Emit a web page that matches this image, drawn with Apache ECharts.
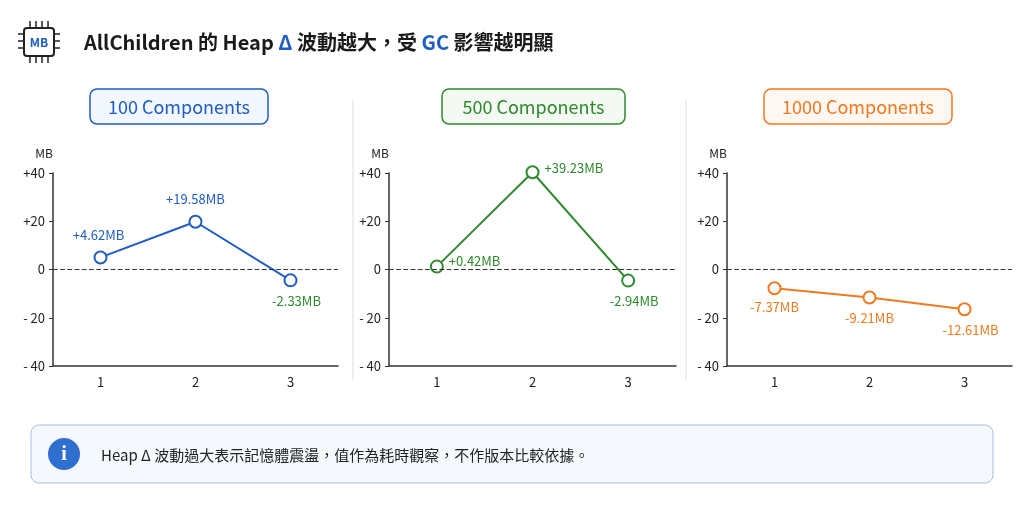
<!DOCTYPE html><html><head><meta charset="utf-8"><script src="https://cdn.jsdelivr.net/npm/echarts@6/dist/echarts.min.js"></script>
<style>body{margin:0;background:#fff}#c{width:1024px;height:512px}</style></head><body><div id="c"></div><script>
const categories=['1','2','3'];
const panelTitles=['100 Components','500 Components','1000 Components'];
const values100=[5.0,19.8,-4.5];
const values500=[1.2,40.3,-4.6];
const values1000=[-7.8,-11.6,-16.5];
const labels100=['+4.62MB','+19.58MB','-2.33MB'];
const labels500=['+0.42MB','+39.23MB','-2.94MB'];
const labels1000=['-7.37MB','-9.21MB','-12.61MB'];
const BLUE='#1f5cc4',GREEN='#2d8a2d',ORANGE='#f07a22';
const F='"Noto Sans CJK TC","Noto Sans",sans-serif';
const chart=echarts.init(document.getElementById('c'));
const grids=[{left:53,width:285},{left:389,width:287},{left:727,width:285}];
const vals=[values100,values500,values1000],labs=[labels100,labels500,labels1000];
const cols=[BLUE,GREEN,ORANGE];
const labelCols=[[BLUE,BLUE,GREEN],[GREEN,GREEN,GREEN],[ORANGE,ORANGE,ORANGE]];
const labelPos=[[['top',[-2,-4]],['top',[0,-4]],['bottom',[6,2]]],[['right',[0,-6]],['right',[0,-4]],['bottom',[6,2]]],[['bottom',[0,0]],['bottom',[0,2]],['bottom',[6,2]]]];
const series=[],xAxis=[],yAxis=[];
for(let i=0;i<3;i++){
 xAxis.push({gridIndex:i,type:'category',data:categories,axisTick:{show:false},axisLine:{onZero:false,lineStyle:{color:'#333',width:1.5}},axisLabel:{color:'#222',fontSize:13,fontFamily:F,margin:10}});
 yAxis.push({gridIndex:i,type:'value',min:-40,max:40,interval:20,name:'MB',nameLocation:'end',nameGap:14,nameTextStyle:{color:'#222',fontSize:12,fontFamily:F,align:'right'},
  axisLine:{show:true,lineStyle:{color:'#333',width:1.5}},axisTick:{show:true,length:4,lineStyle:{color:'#333'}},splitLine:{show:false},
  axisLabel:{color:'#222',fontSize:13,fontFamily:F,formatter:v=>v>0?'+'+v:(v<0?'- '+(-v):'0')}});
 series.push({type:'line',xAxisIndex:i,yAxisIndex:i,clip:false,symbol:'circle',symbolSize:12,
  lineStyle:{color:cols[i],width:2},itemStyle:{color:'#fff',borderColor:cols[i],borderWidth:2},
  data:vals[i].map((v,j)=>({value:v,label:{show:true,formatter:labs[i][j],position:labelPos[i][j][0],offset:labelPos[i][j][1],color:labelCols[i][j],fontSize:13,fontFamily:F}})),
  markLine:{silent:true,symbol:'none',label:{show:false},lineStyle:{color:'#333',type:'dashed',width:1.2},data:[{yAxis:0}]}});
}
const g=[];
g.push({type:'rect',shape:{x:24,y:28,width:30,height:28,r:3},style:{fill:'#fff',stroke:'#222',lineWidth:2}});
for(let k=0;k<4;k++){const x=30+k*6;g.push({type:'line',shape:{x1:x,y1:21,x2:x,y2:28},style:{stroke:'#222',lineWidth:1.5}});g.push({type:'line',shape:{x1:x,y1:56,x2:x,y2:63},style:{stroke:'#222',lineWidth:1.5}});}
for(let k=0;k<3;k++){const y=34+k*7;g.push({type:'line',shape:{x1:18,y1:y,x2:24,y2:y},style:{stroke:'#222',lineWidth:1.5}});g.push({type:'line',shape:{x1:54,y1:y,x2:60,y2:y},style:{stroke:'#222',lineWidth:1.5}});}
g.push({type:'text',x:39,y:42,style:{text:'MB',fill:BLUE,font:'bold 12px '+F,align:'center',verticalAlign:'middle'}});
g.push({type:'text',x:84,y:42,style:{text:'{k|AllChildren 的 Heap }{b|Δ}{k| 波動越大，受 }{b|GC}{k| 影響越明顯}',verticalAlign:'middle',rich:{k:{fill:'#1a1a1a',font:'bold 20px '+F},b:{fill:BLUE,font:'bold 20px '+F}}}});
const pills=[[90,268,BLUE,'#f3f7ff'],[442,625,GREEN,'#f4faf3'],[764,952,ORANGE,'#fff7f1']];
pills.forEach((p,i)=>{g.push({type:'rect',shape:{x:p[0],y:89,width:p[1]-p[0],height:35,r:7},style:{fill:p[3],stroke:p[2],lineWidth:1.5}});
 g.push({type:'text',x:(p[0]+p[1])/2,y:107,style:{text:panelTitles[i],fill:p[2],font:'18px '+F,align:'center',verticalAlign:'middle'}});});
[353,686].forEach(x=>g.push({type:'line',shape:{x1:x,y1:100,x2:x,y2:380},style:{stroke:'#ddd',lineWidth:1}}));
g.push({type:'rect',shape:{x:31,y:425,width:962,height:58,r:8},style:{fill:'#f5f8fd',stroke:'#a9bde0',lineWidth:1}});
g.push({type:'circle',shape:{cx:64,cy:454,r:16},style:{fill:'#2f6fd0'}});
g.push({type:'text',x:64,y:455,style:{text:'i',fill:'#fff',font:'bold 20px serif',align:'center',verticalAlign:'middle'}});
g.push({type:'text',x:101,y:455,style:{text:'Heap Δ 波動過大表示記憶體震盪，值作為耗時觀察，不作版本比較依據。',fill:'#222',font:'15px '+F,verticalAlign:'middle'}});
chart.setOption({animation:false,grid:grids.map(x=>({left:x.left,width:x.width,top:173,height:193})),xAxis,yAxis,series,graphic:g});
</script></body></html>
